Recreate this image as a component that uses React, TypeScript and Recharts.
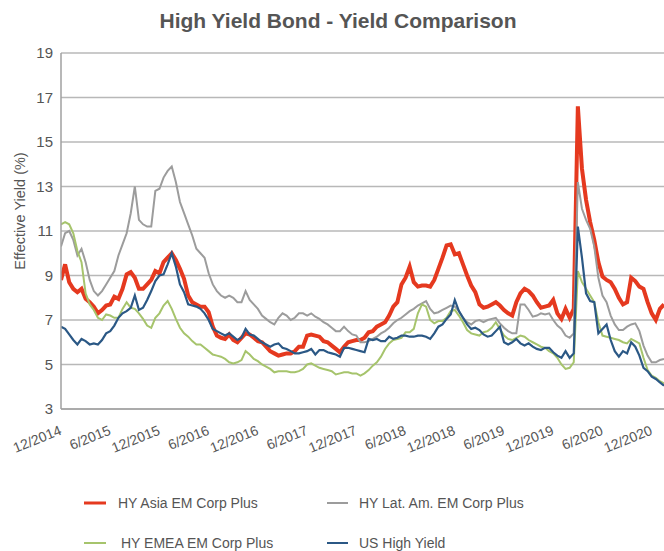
import React from "react";
import { LineChart, Line, XAxis, YAxis, CartesianGrid } from "recharts";

// Half-monthly observations starting 12/2014 (x = months since 12/2014)
const asiaEM = [
  8.8, 9.5, 8.7, 8.4, 8.25, 8.4, 7.95, 7.8, 7.6, 7.3, 7.45, 7.65, 7.7, 8.05, 7.95, 8.4, 9.05, 9.15, 8.9, 8.4,
  8.4, 8.6, 8.8, 9.2, 9.1, 9.6, 9.8, 10.0, 9.7, 9.3, 8.85, 8.1, 7.8, 7.7, 7.6, 7.6, 7.35, 6.7, 6.3, 6.2,
  6.15, 6.35, 6.1, 6.0, 6.2, 6.4, 6.35, 6.2, 6.05, 6.0, 5.8, 5.6, 5.5, 5.4, 5.45, 5.5, 5.5, 5.6, 5.8, 5.8,
  6.3,
  6.35, 6.3, 6.25, 6.05, 6.0, 5.85, 5.7, 5.55, 5.8, 6.0, 6.05, 6.1, 6.1, 6.2, 6.45, 6.5, 6.7, 6.8, 6.9, 7.2,
  7.6, 7.8, 8.6, 8.9, 9.4, 8.7, 8.5, 8.55, 8.55, 8.5, 8.8, 9.3, 9.8, 10.35, 10.4, 9.95, 10.0, 9.5, 9.0, 8.55,
  8.25, 7.7, 7.55, 7.6, 7.7, 7.8, 7.65, 7.45, 7.3, 7.2, 7.8, 8.2, 8.4, 8.3, 8.1, 7.8, 7.55, 7.6,
  7.65, 7.9, 7.3, 7.05, 7.5, 7.1, 7.5, 16.6, 13.8, 12.4, 11.4, 10.6, 9.6, 8.95, 8.8, 8.7, 8.4, 8.0, 7.7, 7.8,
  8.9, 8.75, 8.5, 8.4, 7.8, 7.3, 7.0, 7.5, 7.7,
];

const latAmEM = [
  10.3, 10.9, 11.0, 10.6, 9.9, 10.2, 9.6, 8.8, 8.3, 8.1, 8.3, 8.6, 8.9, 9.2, 9.9, 10.4, 10.9, 11.8, 13.0, 11.5,
  11.3, 11.2, 11.2, 12.8, 12.9, 13.4, 13.7, 13.9, 13.2, 12.3, 11.8, 11.3, 10.8, 10.2, 10.0, 9.8, 9.1, 8.6, 8.3, 8.1,
  8.0, 8.1, 8.0, 7.8, 7.8, 8.3, 7.9, 7.7, 7.5, 7.2, 7.05, 6.9, 6.8, 7.1, 7.3, 7.2, 7.0, 7.1, 7.3, 7.3,
  7.2,
  7.3, 7.15, 7.05, 6.9, 6.8, 6.65, 6.5, 6.5, 6.7, 6.5, 6.35, 6.3, 6.0, 6.0, 6.05, 6.15, 6.25, 6.4, 6.5, 6.65,
  6.85, 7.0, 7.1, 7.25, 7.4, 7.5, 7.65, 7.75, 7.85, 7.5, 7.3, 7.35, 7.45, 7.55, 7.65, 7.6, 7.4, 7.1, 6.9, 6.8,
  6.95, 7.0, 6.9, 7.0, 7.05, 7.1, 6.85, 6.65, 6.5, 6.4, 6.4, 7.7, 7.7, 7.45, 7.15, 7.2, 7.3, 7.25,
  7.3, 7.0, 6.75, 6.6, 6.3, 6.2, 6.4, 13.2, 12.0, 11.5, 11.1, 10.3, 8.9, 8.1, 7.8, 7.2, 6.8, 6.55, 6.55, 6.7,
  6.8, 6.85, 6.5, 5.85, 5.4, 5.1, 5.1, 5.2, 5.25,
];

const emeaEM = [
  11.3, 11.4, 11.3, 10.9, 10.1, 9.6, 8.2, 7.7, 7.45, 7.1, 7.0, 7.25, 7.2, 7.1, 7.1, 7.5, 7.8, 7.55, 7.5, 7.3,
  7.05, 6.75, 6.65, 7.1, 7.3, 7.65, 7.85, 7.5, 7.05, 6.65, 6.4, 6.25, 6.05, 5.9, 5.9, 5.75, 5.6, 5.45, 5.4, 5.35,
  5.25, 5.1, 5.05, 5.1, 5.2, 5.6, 5.45, 5.25, 5.15, 5.0, 4.9, 4.8, 4.65, 4.7, 4.7, 4.7, 4.65, 4.65, 4.7, 4.8,
  5.0,
  5.05, 4.95, 4.85, 4.8, 4.75, 4.7, 4.55, 4.6, 4.65, 4.65, 4.6, 4.6, 4.5, 4.6, 4.75, 4.95, 5.1, 5.35, 5.7, 5.95,
  6.1, 6.15, 6.2, 6.45, 6.45, 6.6, 7.3, 7.7, 7.6, 7.0, 6.85, 6.95, 6.95, 7.1, 7.4, 7.45, 7.2, 6.9, 6.55, 6.4,
  6.35, 6.3, 6.45, 6.5, 6.65, 6.9, 6.6, 6.3, 6.15, 6.1, 6.2, 6.3, 6.25, 6.1, 6.0, 5.9, 5.8, 5.75,
  5.6, 5.5, 5.3, 5.0, 4.8, 4.85, 5.1, 9.2, 8.7, 8.4, 8.1, 7.8, 6.9, 6.3, 6.25, 6.2, 6.15, 6.1, 6.0, 5.95,
  6.15, 6.05, 5.95, 5.3, 4.75, 4.5, 4.4, 4.25, 4.15,
];

const usHighYield = [
  6.7, 6.6, 6.35, 6.1, 5.9, 6.15, 6.05, 5.9, 5.95, 5.9, 6.1, 6.4, 6.5, 6.75, 7.1, 7.3, 7.4, 7.55, 8.1, 7.45,
  7.55, 7.9, 8.3, 8.75, 9.0, 9.05, 9.5, 10.0, 9.4, 8.6, 8.25, 7.7, 7.65, 7.6, 7.5, 7.3, 7.0, 6.6, 6.5, 6.4,
  6.3, 6.4, 6.25, 6.1, 6.2, 6.6, 6.35, 6.3, 6.15, 6.0, 5.9, 5.8, 5.9, 5.95, 5.75, 5.7, 5.6, 5.5, 5.5, 5.55,
  5.6,
  5.7, 5.45, 5.65, 5.65, 5.55, 5.5, 5.45, 5.35, 5.75, 5.75, 5.7, 5.65, 5.6, 5.55, 6.15, 6.1, 6.15, 6.05, 6.05, 6.25,
  6.15, 6.2, 6.3, 6.3, 6.25, 6.25, 6.3, 6.3, 6.25, 6.15, 6.4, 6.7, 6.8, 7.05, 7.25, 7.9, 7.4, 7.1, 6.8, 6.6,
  6.65, 6.55, 6.35, 6.25, 6.3, 6.5, 6.7, 6.0, 5.9, 6.0, 6.15, 5.95, 5.85, 5.95, 5.8, 5.7, 5.65, 5.75,
  5.75, 5.55, 5.4, 5.3, 5.6, 5.3, 5.5, 11.2, 9.8, 8.2, 7.85, 7.8, 6.4, 6.6, 6.8, 6.1, 5.6, 5.35, 5.6, 5.5,
  6.0, 5.8, 5.4, 4.85, 4.7, 4.45, 4.35, 4.2, 4.05,
];

const xTickLabels = [
  "12/2014", "6/2015", "12/2015", "6/2016", "12/2016", "6/2017", "12/2017",
  "6/2018", "12/2018", "6/2019", "12/2019", "6/2020", "12/2020",
];
const yTicks = [3, 5, 7, 9, 11, 13, 15, 17, 19];

const seriesNames = [
  "HY Asia EM Corp Plus",
  "HY Lat. Am. EM Corp Plus",
  "HY EMEA EM Corp Plus",
  "US High Yield",
];

const COLORS = {
  asia: "#E5391F",
  latam: "#9C9C9C",
  emea: "#A6C46C",
  us: "#2B5885",
};

const data = asiaEM.map((v, i) => ({
  m: i * 0.5,
  asia: v,
  latam: latAmEM[i],
  emea: emeaEM[i],
  us: usHighYield[i],
}));

const xTicks = xTickLabels.map((_, i) => i * 6);

const FONT = "'Liberation Sans', Arial, Helvetica, sans-serif";
const TEXT = "#555555";

const XTick = (props: any) => {
  const { x, payload } = props;
  const label = xTickLabels[Math.round(payload.value / 6)];
  const ax = x + 1.5;
  const ay = 434;
  return (
    <text
      x={ax}
      y={ay}
      transform={`rotate(-22 ${ax} ${ay})`}
      textAnchor="end"
      fontSize={14}
      fill={TEXT}
      fontFamily={FONT}
    >
      {label}
    </text>
  );
};

export default function App() {
  return (
    <div style={{ position: "absolute", left: 0, top: 0, width: 664, height: 551, background: "#fff", overflow: "hidden" }}>
      <LineChart
        width={664}
        height={551}
        data={data}
        margin={{ top: 53, right: 0, bottom: 102, left: 0 }}
      >
        <CartesianGrid vertical={false} stroke="#b8b8b8" strokeWidth={1.5} />
        <XAxis
          type="number"
          dataKey="m"
          domain={[0, 73.5]}
          ticks={xTicks}
          tick={<XTick />}
          tickLine={false}
          axisLine={{ stroke: "#a0a0a0", strokeWidth: 1.5 }}
          height={40}
          interval={0}
          allowDataOverflow
        />
        <YAxis
          domain={[3, 19]}
          ticks={yTicks}
          width={61}
          tickLine={false}
          axisLine={{ stroke: "#a0a0a0", strokeWidth: 1.5 }}
          tick={{ fill: TEXT, fontSize: 15, fontFamily: FONT }}
          interval={0}
        />
        <Line type="linear" dataKey="asia" stroke={COLORS.asia} strokeWidth={4} dot={false} isAnimationActive={false} />
        <Line type="linear" dataKey="latam" stroke={COLORS.latam} strokeWidth={2} dot={false} isAnimationActive={false} />
        <Line type="linear" dataKey="emea" stroke={COLORS.emea} strokeWidth={2} dot={false} isAnimationActive={false} />
        <Line type="linear" dataKey="us" stroke={COLORS.us} strokeWidth={2.2} dot={false} isAnimationActive={false} />
      </LineChart>
      <svg
        width={664}
        height={551}
        style={{ position: "absolute", left: 0, top: 0, pointerEvents: "none" }}
      >
        <text x={338} y={28} textAnchor="middle" fontSize={21} fontWeight="bold" fill={TEXT} fontFamily={FONT}>
          High Yield Bond - Yield Comparison
        </text>
        <text
          x={0}
          y={0}
          transform="translate(25 211) rotate(-90)"
          textAnchor="middle"
          fontSize={14.5}
          fill={TEXT}
          fontFamily={FONT}
        >
          Effective Yield (%)
        </text>
        <line x1={84} y1={503} x2={106} y2={503} stroke={COLORS.asia} strokeWidth={3} />
        <text x={118} y={508} fontSize={14} fill={TEXT} fontFamily={FONT}>{seriesNames[0]}</text>
        <line x1={327} y1={503} x2={348} y2={503} stroke={COLORS.latam} strokeWidth={2} />
        <text x={359} y={508} fontSize={14} fill={TEXT} fontFamily={FONT}>{seriesNames[1]}</text>
        <line x1={84} y1={543} x2={106} y2={543} stroke={COLORS.emea} strokeWidth={2} />
        <text x={121} y={548} fontSize={14} fill={TEXT} fontFamily={FONT}>{seriesNames[2]}</text>
        <line x1={327} y1={543} x2={348} y2={543} stroke={COLORS.us} strokeWidth={2} />
        <text x={359} y={548} fontSize={14} fill={TEXT} fontFamily={FONT}>{seriesNames[3]}</text>
      </svg>
    </div>
  );
}
